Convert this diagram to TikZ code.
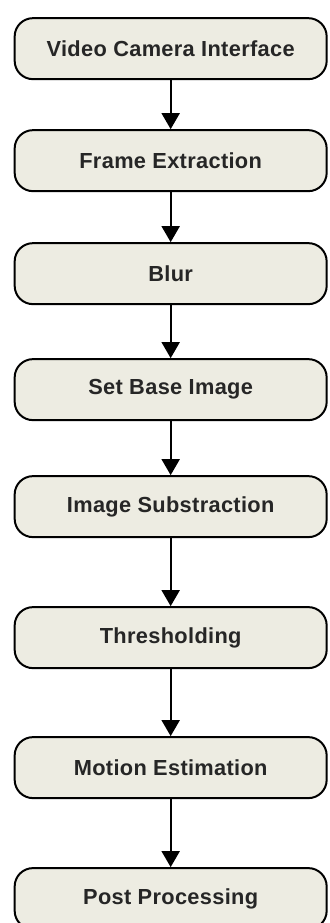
\documentclass[tikz,border=0pt]{standalone}
\usepackage{fontspec}
\setmainfont{Liberation Sans}
\usepackage{xcolor}
\usepackage{tikz}
\usetikzlibrary{arrows.meta,positioning}

\definecolor{boxfill}{RGB}{237,236,226}

\begin{document}
\begin{tikzpicture}[
    >={Triangle[width=0.54cm,length=0.48cm]},
    node distance=1.5cm,
    stagebox/.style={draw, line width=1.7pt, rounded corners=0.55cm, fill=boxfill, align=center,
        font=\fontsize{18.6}{21}\selectfont\bfseries\addfontfeatures{LetterSpace=1.5}, text=black!85,
        minimum width=9.36cm, minimum height=1.83cm, inner sep=4pt}
]
\useasboundingbox (0,0) rectangle (9.87,-27.69);
\clip (0,0) rectangle (9.87,-27.69);
\node[stagebox] (camera) at (5.12,-1.46) {Video Camera Interface};
\node[stagebox, below=1.47cm of camera] (frames) {Frame Extraction};
\node[stagebox, below=1.5cm of frames] (blur) {Blur};
\node[stagebox, below=1.59cm of blur] (base) {Set Base Image};
\node[stagebox, below=1.62cm of base] (subtract) {Image Substraction};
\node[stagebox, below=2.04cm of subtract] (thresh) {Thresholding};
\node[stagebox, below=2.01cm of thresh] (motion) {Motion Estimation};
\node[stagebox, below=2.04cm of motion] (post) {Post Processing};
\draw[->, line width=1.7pt] (camera) -- (frames);
\draw[->, line width=1.7pt] (frames) -- (blur);
\draw[->, line width=1.7pt] (blur) -- (base);
\draw[->, line width=1.7pt] (base) -- (subtract);
\draw[->, line width=1.7pt] (subtract) -- (thresh);
\draw[->, line width=1.7pt] (thresh) -- (motion);
\draw[->, line width=1.7pt] (motion) -- (post);
\end{tikzpicture}
\end{document}
